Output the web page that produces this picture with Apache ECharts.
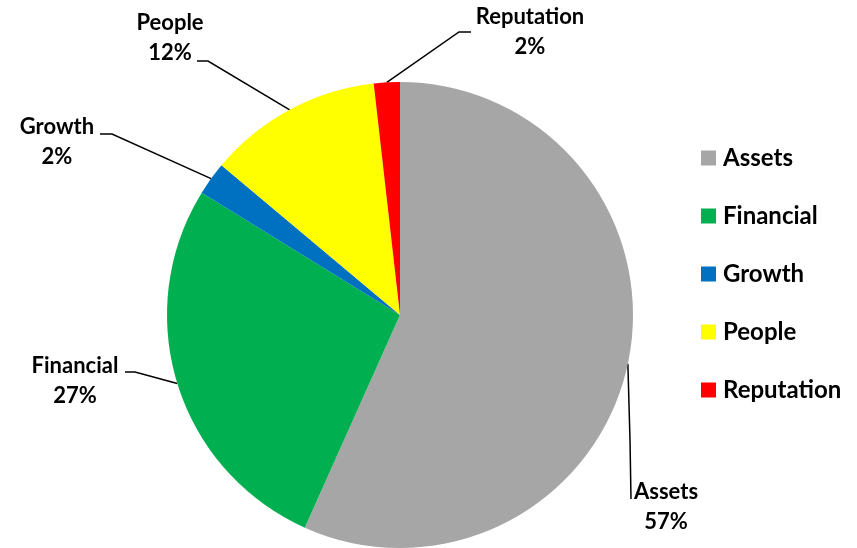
<!DOCTYPE html>
<html>
<head>
<meta charset="utf-8">
<script src="https://cdn.jsdelivr.net/npm/echarts@6/dist/echarts.min.js"></script>
<style>
html,body{margin:0;padding:0;background:#fff;}
#chart{width:857px;height:548px;}
</style>
</head>
<body>
<div id="chart"></div>
<script>
var categories = ['Assets', 'Financial', 'Growth', 'People', 'Reputation'];
var values = [56.7, 27.1, 2.3, 12.1, 1.8];
var colors = ['#A6A6A6', '#00B050', '#0070C0', '#FFFF00', '#FF0000'];

// label centre positions and leader-line bends (label placement only)
var labelPos = [[666, 507], [75, 381], [57, 142], [170, 38], [530, 32]];
var lineBend = [[[630, 440], [631, 499]], [[135, 372], [125, 372]], [[112, 134], [100, 134]], [[208, 61], [197, 61]], [[459, 32], [471, 32]]];

var FONT = 'Lato, "Open Sans", sans-serif';

var chart = echarts.init(document.getElementById('chart'), null, {renderer: 'canvas'});
var data = categories.map(function (c, i) {
  return {name: c, value: values[i], itemStyle: {color: colors[i]}};
});

chart.setOption({
  animation: false,
  backgroundColor: '#ffffff',
  legend: {
    orient: 'vertical',
    left: 701,
    top: 146,
    padding: 0,
    icon: 'rect',
    itemWidth: 15,
    itemHeight: 15,
    itemGap: 34,
    data: categories,
    textStyle: {fontFamily: FONT, fontWeight: 'bold', fontSize: 24, color: '#000', lineHeight: 24, padding: [0, 0, 0, 2]}
  },
  series: [{
    type: 'pie',
    center: [400, 315],
    radius: 233,
    startAngle: 90,
    clockwise: true,
    percentPrecision: 0,
    avoidLabelOverlap: false,
    itemStyle: {borderWidth: 0},
    emphasis: {disabled: true},
    label: {
      show: true,
      position: 'outside',
      formatter: '{b}\n{d}%',
      fontFamily: FONT,
      fontWeight: 'bold',
      fontSize: 22,
      lineHeight: 30,
      color: '#000',
      align: 'center'
    },
    labelLine: {show: true, length: 20, length2: 10, lineStyle: {color: '#000', width: 1.5}},
    labelLayout: function (params) {
      var i = params.dataIndex;
      var pts = params.labelLinePoints;
      var start = pts && pts[0] ? pts[0] : [400, 315];
      return {
        x: labelPos[i][0],
        y: labelPos[i][1],
        align: 'center',
        verticalAlign: 'middle',
        labelLinePoints: [start, lineBend[i][0], lineBend[i][1]]
      };
    },
    data: data
  }]
});
</script>
</body>
</html>
